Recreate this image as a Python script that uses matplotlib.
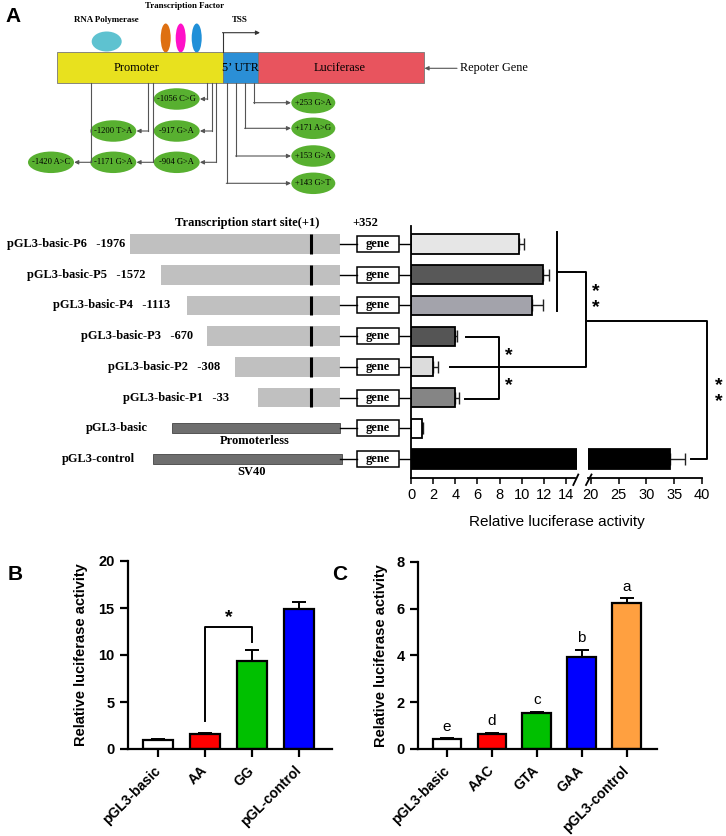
import matplotlib
matplotlib.use('Agg')
import matplotlib.pyplot as plt
from matplotlib.patches import Rectangle, Ellipse

W, H = 726, 836
SERIF = 'Liberation Serif'
SANS = 'Liberation Sans'

# ---------------- data ----------------
constructs = ['pGL3-basic-P6', 'pGL3-basic-P5', 'pGL3-basic-P4', 'pGL3-basic-P3',
              'pGL3-basic-P2', 'pGL3-basic-P1', 'pGL3-basic', 'pGL3-control']
start_sites = ['-1976', '-1572', '-1113', '-670', '-308', '-33', '', '']
a_values = [9.8, 11.9, 10.9, 4.0, 1.95, 4.0, 1.0, 34.3]
a_errors = [0.4, 0.55, 1.05, 0.12, 0.45, 0.35, 0.08, 2.7]
a_colors = ['#e6e6e6', '#585858', '#a3a3ab', '#555555', '#dcdcdc', '#858585', '#ffffff', '#000000']
a_ticks_left = [0, 2, 4, 6, 8, 10, 12, 14]
a_ticks_right = [20, 25, 30, 35, 40]

snps_promoter = ['-1420 A>C', '-1200 T>A', '-1171 G>A', '-1056 C>G', '-917 G>A', '-904 G>A']
snps_utr = ['+253 G>A', '+171 A>G', '+153 G>A', '+143 G>T']

b_categories = ['pGL3-basic', 'AA', 'GG', 'pGL-control']
b_values = [0.98, 1.58, 9.4, 14.85]
b_errors = [0.05, 0.12, 1.1, 0.8]
b_colors = ['#ffffff', '#ff0000', '#00c000', '#0000ff']

c_categories = ['pGL3-basic', 'AAC', 'GTA', 'GAA', 'pGL3-control']
c_values = [0.41, 0.66, 1.52, 3.93, 6.24]
c_errors = [0.04, 0.04, 0.08, 0.3, 0.2]
c_letters = ['e', 'd', 'c', 'b', 'a']
c_colors = ['#ffffff', '#ff0000', '#00c000', '#0000ff', '#ffa040']

# ---------------- figure ----------------
fig = plt.figure(figsize=(W / 100, H / 100), dpi=100)
fig.patch.set_facecolor('white')


def px_axes(x0, y0, x1, y1, **kw):
    return fig.add_axes([x0 / W, 1 - y1 / H, (x1 - x0) / W, (y1 - y0) / H], **kw)


ax0 = px_axes(0, 0, W, H)
ax0.set_xlim(0, W)
ax0.set_ylim(H, 0)
ax0.axis('off')
ax0.patch.set_alpha(0)

# ---------------- top schematic ----------------
lc = '#555555'
ax0.text(5, 17, 'A', fontsize=15, fontweight='bold', family=SANS, va='center', ha='left')
ax0.text(106.7, 19.5, 'RNA Polymerase', fontsize=6.4, fontweight='bold', family=SERIF, ha='center', va='center')
ax0.text(185, 6.5, 'Transcription Factor', fontsize=6.4, fontweight='bold', family=SERIF, ha='center', va='center')
ax0.text(240, 20, 'TSS', fontsize=6.4, fontweight='bold', family=SERIF, ha='center', va='center')

ax0.add_patch(Ellipse((106.7, 41.5), 30, 20, facecolor='#5ec2d0', edgecolor='none'))
for cx, col in zip([165.7, 180.7, 196.7], ['#de7012', '#ff10c8', '#2090d8']):
    ax0.add_patch(Ellipse((cx, 38), 10, 29, facecolor=col, edgecolor='none'))

ax0.add_patch(Rectangle((57.3, 52.3), 165.4, 31, facecolor='#e8e11e', edgecolor='#777777', lw=0.6))
ax0.add_patch(Rectangle((222.7, 52.3), 35.3, 31, facecolor='#2b8fd6', edgecolor='#777777', lw=0.6))
ax0.add_patch(Rectangle((258, 52.3), 166, 31, facecolor='#e8545e', edgecolor='#777777', lw=0.6))
ax0.text(136.7, 68.3, 'Promoter', fontsize=8.8, family=SERIF, ha='center', va='center')
ax0.text(240.3, 68.3, '5\u2019 UTR', fontsize=8.8, family=SERIF, ha='center', va='center')
ax0.text(340, 68.3, 'Luciferase', fontsize=8.8, family=SERIF, ha='center', va='center')
ax0.text(459.5, 68.3, 'Repoter Gene', fontsize=8.8, family=SERIF, ha='left', va='center')

arr = dict(arrowstyle='-|>', color=lc, lw=0.8, mutation_scale=6, shrinkA=0, shrinkB=0)
ax0.annotate('', xy=(424.5, 68.3), xytext=(457, 68.3), arrowprops=arr)
ax0.plot([222.7, 222.7], [52.3, 32.7], color='#333333', lw=0.8)
ax0.annotate('', xy=(260, 32.7), xytext=(222.5, 32.7),
             arrowprops=dict(arrowstyle='-|>', color='#333333', lw=0.8, mutation_scale=6, shrinkA=0, shrinkB=0))

green = '#58b030'
prom_pos = [(51, 162.3), (113.3, 131), (113.3, 162.3), (176.7, 99), (176.7, 131), (176.7, 162.3)]
prom_lines = [90.7, 148.3, 152.7, 207.3, 211.7, 216]
for lab, (cx, cy), lx in zip(snps_promoter, prom_pos, prom_lines):
    ax0.add_patch(Ellipse((cx, cy), 46, 21.5, facecolor=green, edgecolor='none'))
    ax0.text(cx, cy, lab, fontsize=6.1, family=SERIF, ha='center', va='center')
    ax0.plot([lx, lx], [83.3, cy], color=lc, lw=0.8)
    ax0.annotate('', xy=(cx + 23.2, cy), xytext=(lx + 0.4, cy), arrowprops=arr)

utr_pos = [(313.3, 102.7), (313.3, 128.3), (313.3, 156), (313.3, 183.3)]
utr_lines = [254, 245, 236, 226.7]
for lab, (cx, cy), lx in zip(snps_utr, utr_pos, utr_lines):
    ax0.add_patch(Ellipse((cx, cy), 44, 21.5, facecolor=green, edgecolor='none'))
    ax0.text(cx, cy, lab, fontsize=6.1, family=SERIF, ha='center', va='center')
    ax0.plot([lx, lx], [83.3, cy], color=lc, lw=0.8)
    ax0.annotate('', xy=(cx - 22.3, cy), xytext=(lx - 0.4, cy), arrowprops=arr)

# ---------------- panel A constructs (diagram axes) ----------------
n = len(constructs)
ytop, ybot = -0.586, 7.619
axD = px_axes(0, 226, 411, 478)
axD.set_xlim(0, 411)
axD.set_ylim(ybot, ytop)
axD.axis('off')
axD.patch.set_alpha(0)

bar_start = [130, 161.3, 186.7, 206.7, 235, 257.7, 171.7, 153.3]
label_end = [125, 145.7, 170, 193, 220, 229, 148, 135]
bar_end = 339.5
for i in range(n):
    if i < 6:
        axD.barh(i, bar_end - bar_start[i], left=bar_start[i], height=0.64, color='#c0c0c0', edgecolor='none')
        axD.plot([310.7, 310.7], [i - 0.32, i + 0.32], color='black', lw=2.2, solid_capstyle='butt')
    else:
        axD.barh(i, bar_end + (2 if i == 7 else 0) - bar_start[i], left=bar_start[i], height=0.32,
                 color='#6e6e6e', edgecolor='#444444', lw=0.6)
    txt = constructs[i] + ('   ' + start_sites[i] if start_sites[i] else '')
    axD.text(label_end[i], i, txt, fontsize=8.9, fontweight='bold', family=SERIF, ha='right', va='center')
    axD.plot([bar_end, 357.3], [i, i], color='black', lw=1.0)
    axD.add_patch(Rectangle((357.3, i - 0.26), 41.7, 0.52, facecolor='white', edgecolor='black', lw=1.1))
    axD.text(378.2, i, 'gene', fontsize=9, fontweight='bold', family=SERIF, ha='center', va='center')
axD.text(255, 6.42, 'Promoterless', fontsize=9, fontweight='bold', family=SERIF, ha='center', va='center')
axD.text(252, 7.42, 'SV40', fontsize=9, fontweight='bold', family=SERIF, ha='center', va='center')
ax0.text(246.7, 223.3, 'Transcription start site(+1)', fontsize=9, fontweight='bold', family=SERIF,
         ha='center', va='center')
ax0.text(365, 223.3, '+352', fontsize=9, fontweight='bold', family=SERIF, ha='center', va='center')

# ---------------- panel A bar chart (broken axis) ----------------
ypos = list(range(n))
axL = px_axes(411, 226, 577, 478)
axR = px_axes(588, 226, 702, 478)
for ax, lim, ticks in [(axL, (0, 15), a_ticks_left), (axR, (19.5, 40), a_ticks_right)]:
    ax.barh(ypos, a_values, height=0.62, color=a_colors, edgecolor='black', lw=1.3, zorder=2)
    ax.errorbar(a_values, ypos, xerr=[[0] * n, a_errors], fmt='none', ecolor='#222222',
                elinewidth=1.0, capsize=4, capthick=1.0, zorder=1)
    ax.set_xlim(*lim)
    ax.set_ylim(ybot, ytop)
    ax.set_xticks(ticks)
    ax.set_xticklabels([str(t) for t in ticks], fontsize=10.5, family=SANS)
    ax.tick_params(axis='x', direction='out', length=4, width=1.1, pad=3)
    ax.spines['top'].set_visible(False)
    ax.spines['right'].set_visible(False)
    ax.spines['bottom'].set_linewidth(1.3)
    ax.patch.set_alpha(0)
axL.spines['left'].set_linewidth(1.3)
axL.spines['bottom'].set_bounds(0, 14.8)
axL.set_yticks(ypos)
axL.set_yticklabels([])
axL.tick_params(axis='y', direction='out', length=9, width=1.0)
axR.spines['left'].set_visible(False)
axR.set_yticks([])
ax0.text(556.7, 521.7, 'Relative luciferase activity', fontsize=11, family=SANS, ha='center', va='center')

# break marks
ax0.plot([573.3, 578.3], [485, 474.5], color='black', lw=1.3, zorder=5)
ax0.plot([586, 591.5], [485, 474.5], color='black', lw=1.3, zorder=5)

# significance brackets (pixel positions)
bk = dict(color='black', lw=1.4, zorder=5)
ax0.plot([556.7, 556.7], [231.7, 311], **bk)
ax0.plot([556.7, 586, 586, 450], [272.3, 272.3, 366.7, 366.7], **bk)
ax0.plot([466, 498.7, 498.7, 465], [337.3, 337.3, 398.7, 398.7], **bk)
ax0.plot([588.3, 706.7, 706.7, 691], [320.7, 320.7, 459.3, 459.3], **bk)
for (sx, sy) in [(595.7, 292), (595.7, 308), (508.3, 356), (508.3, 386), (718.3, 386), (718.3, 402)]:
    ax0.text(sx, sy, '*', fontsize=14, fontweight='bold', family=SANS, ha='center', va='center')

# ---------------- panels B and C ----------------
ax0.text(8, 574, 'B', fontsize=15, fontweight='bold', family=SANS, va='center', ha='left')
ax0.text(332, 574, 'C', fontsize=15, fontweight='bold', family=SANS, va='center', ha='left')


def style_small(ax, cats, ylab_x):
    for s in ['top', 'right']:
        ax.spines[s].set_visible(False)
    for s in ['left', 'bottom']:
        ax.spines[s].set_linewidth(1.6)
    ax.tick_params(axis='both', direction='out', length=6, width=1.6)
    ax.set_xticks(range(len(cats)))
    ax.set_xticklabels(cats, rotation=45, ha='right', va='center', rotation_mode='anchor',
                       fontsize=10, fontweight='bold', family=SANS)
    ax.tick_params(axis='x', pad=8)
    for t in ax.get_yticklabels():
        t.set_fontsize(10.5)
        t.set_fontweight('bold')
        t.set_family(SANS)
    ax.set_ylabel('Relative luciferase activity', fontsize=10.5, fontweight='bold', family=SANS)
    ax.yaxis.set_label_coords(ylab_x, 0.5)
    ax.patch.set_alpha(0)


axB = px_axes(127.7, 561, 331.7, 749)
xb = list(range(len(b_categories)))
axB.bar(xb, b_values, width=0.64, color=b_colors, edgecolor='black', lw=1.6, zorder=2)
axB.errorbar(xb, b_values, yerr=[[0] * len(xb), b_errors], fmt='none', ecolor='black',
             elinewidth=1.4, capsize=5, capthick=1.4, zorder=1)
axB.set_xlim(-0.65, 3.69)
axB.set_ylim(0, 20)
axB.set_yticks([0, 5, 10, 15, 20])
style_small(axB, b_categories, -0.195)
axB.plot([1, 1, 2, 2], [3.0, 12.95, 12.95, 11.4], color='black', lw=1.4)
axB.text(1.5, 14.0, '*', fontsize=14, fontweight='bold', family=SANS, ha='center', va='center')

axC = px_axes(418.3, 561.7, 656.7, 749)
xc = list(range(len(c_categories)))
axC.bar(xc, c_values, width=0.64, color=c_colors, edgecolor='black', lw=1.6, zorder=2)
axC.errorbar(xc, c_values, yerr=[[0] * len(xc), c_errors], fmt='none', ecolor='black',
             elinewidth=1.4, capsize=5, capthick=1.4, zorder=1)
axC.set_xlim(-0.64, 4.67)
axC.set_ylim(0, 8)
axC.set_yticks([0, 2, 4, 6, 8])
style_small(axC, c_categories, -0.126)
for xi, v, e, let in zip(xc, c_values, c_errors, c_letters):
    axC.text(xi, v + e + 0.5, let, fontsize=11, family=SANS, ha='center', va='center')

fig.savefig('out.png', dpi=100)
